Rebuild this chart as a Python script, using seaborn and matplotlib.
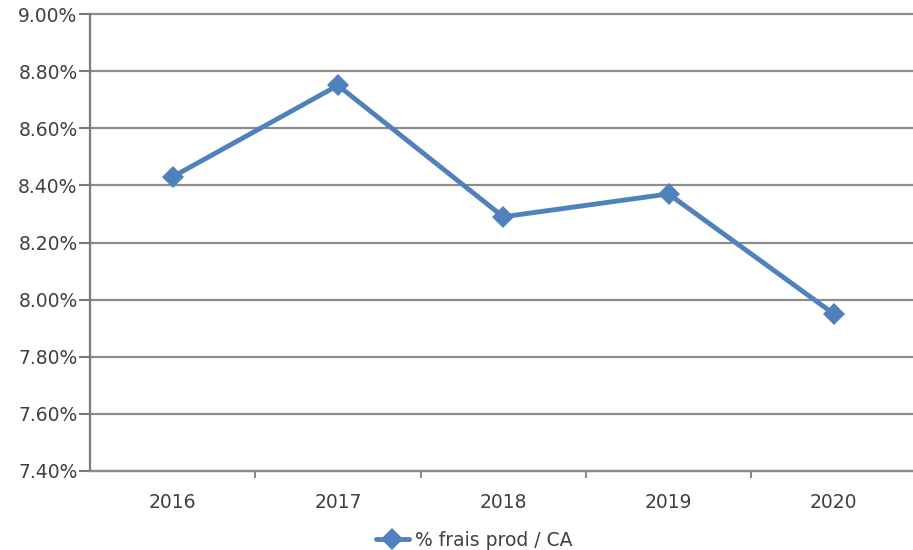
import matplotlib
matplotlib.use("Agg")
import matplotlib.pyplot as plt
import seaborn as sns
import pandas as pd
from matplotlib.ticker import FixedLocator, FuncFormatter

years = ["2016", "2017", "2018", "2019", "2020"]
values = [8.43, 8.75, 8.29, 8.37, 7.95]
series_name = "% frais prod / CA"
y_ticks = [7.40, 7.60, 7.80, 8.00, 8.20, 8.40, 8.60, 8.80, 9.00]

df = pd.DataFrame({"year": years, "value": values, "series": series_name})

sns.set_theme(style="white")
plt.rcParams["font.family"] = ["DejaVu Sans"]

W, H = 913, 550
fig = plt.figure(figsize=(W / 100, H / 100), dpi=100)
left, right, top, bottom = 90, 916.5, 14, 471
ax = fig.add_axes([left / W, 1 - bottom / H, (right - left) / W, (bottom - top) / H])

blue = "#4F81BD"
sns.lineplot(data=df, x="year", y="value", hue="series", palette=[blue],
             marker="D", markersize=11, linewidth=3.5, markeredgewidth=0,
             ax=ax, legend=True, sort=False)

ax.set_ylim(7.40, 9.00)
ax.set_xlim(-0.5, 4.5)
ax.yaxis.set_major_locator(FixedLocator(y_ticks))
ax.yaxis.set_major_formatter(FuncFormatter(lambda v, p: f"{v:.2f}%"))
ax.grid(axis="y", color="#8c8c8c", linewidth=1.6)
for gl in ax.get_ygridlines():
    gl.set_clip_on(False)
ax.set_axisbelow(True)
ax.set_xlabel("")
ax.set_ylabel("")

for s in ["top", "right"]:
    ax.spines[s].set_visible(False)
ax.spines["left"].set_color("#7a7a7a")
ax.spines["left"].set_linewidth(1.6)
ax.spines["bottom"].set_color("#8c8c8c")
ax.spines["bottom"].set_linewidth(1.6)

fs = 13.5
ax.tick_params(axis="y", which="major", left=True, length=8, width=1.5,
               color="#7a7a7a", labelsize=fs, labelcolor="#404040", pad=1)
ax.tick_params(axis="x", which="major", bottom=False, labelsize=fs,
               labelcolor="#404040", pad=10)
ax.xaxis.set_minor_locator(FixedLocator([0.5, 1.5, 2.5, 3.5]))
ax.tick_params(axis="x", which="minor", bottom=True, length=5, width=1.5,
               color="#8c8c8c")

handles, labels = ax.get_legend_handles_labels()
ax.legend(handles, labels, loc="center", bbox_to_anchor=(474 / W, 1 - 540 / H),
          bbox_transform=fig.transFigure, frameon=False, fontsize=fs,
          labelcolor="#404040", handlelength=1.8, handletextpad=0.3)

fig.savefig("out.png", dpi=100)
